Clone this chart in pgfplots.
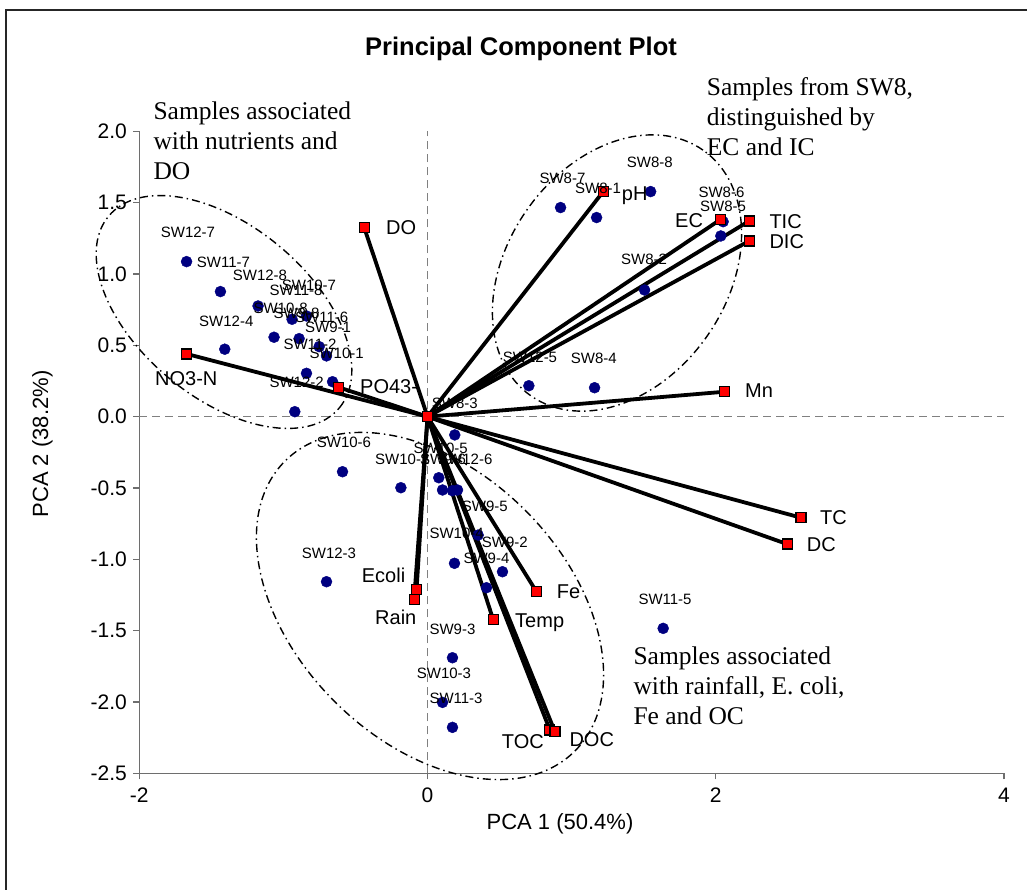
\documentclass[border=0pt]{standalone}
\usepackage{fontspec}
\setmainfont{Liberation Sans}
\newfontfamily\seriffont{Liberation Serif}
\usepackage{pgfplots}
\pgfplotsset{compat=1.18}
\definecolor{navy}{RGB}{0,0,128}
\definecolor{axgray}{RGB}{110,110,110}
\definecolor{zgray}{RGB}{128,128,128}
\newcommand{\smplfont}{\fontsize{15bp}{17bp}\selectfont}
\newcommand{\varfont}{\fontsize{20bp}{22bp}\selectfont}
\newcommand{\annfont}{\seriffont\fontsize{25.5bp}{30bp}\selectfont}
\begin{document}
\begin{tikzpicture}
\begin{scope}[x=1bp,y=1bp]
\path[use as bounding box] (0,0) rectangle (1027,890);
\draw[line width=1.5bp, black!85] (6,0) -- (6,880) -- (1027,880);
\end{scope}
\begin{axis}[at={(139.3bp,116.7bp)}, anchor=south west, scale only axis,
  width=864.7bp, height=641.9bp,
  xmin=-2, xmax=4, ymin=-2.5, ymax=2,
  axis x line=bottom, axis y line=left,
  axis line style={-, axgray, line width=1.2bp},
  xtick={-2,0,2,4}, ytick={-2.5,-2,-1.5,-1,-0.5,0,0.5,1,1.5,2},
  tick style={axgray, line width=1.2bp}, tick align=outside, major tick length=6bp,
  /pgf/number format/assume math mode=true,
  yticklabel style={/pgf/number format/fixed, /pgf/number format/fixed zerofill, /pgf/number format/precision=1},
  ticklabel style={font=\fontsize{21bp}{23bp}\selectfont, text=black},
  xticklabel shift=5bp, yticklabel shift=3bp,
  clip=false]
\draw[zgray, line width=1.5bp, dash pattern=on 8bp off 5bp] (axis cs:0,-2.5) -- (axis cs:0,2);
\draw[zgray, line width=1.5bp, dash pattern=on 8bp off 5bp] (axis cs:-2,0) -- (axis cs:4,0);
% samples
\addplot[only marks, mark=*, mark size=5.5bp, mark options={fill=navy, draw=navy}] coordinates {
(-1.672,1.087) (-1.437,0.877) (-1.176,0.776) (-0.940,0.683) (-0.840,0.706)
(-1.407,0.473) (-1.065,0.557) (-0.891,0.547) (-0.752,0.491) (-0.701,0.426)
(-0.840,0.304) (-0.659,0.245) (-0.921,0.035)
(0.923,1.466) (1.173,1.396) (1.548,1.578) (2.051,1.367) (2.035,1.267)
(1.506,0.888) (0.703,0.217) (1.159,0.203) (1.635,-1.484)
(0.189,-0.128) (-0.590,-0.386) (-0.185,-0.498) (0.078,-0.428) (0.104,-0.514)
(0.173,-0.519) (0.208,-0.514) (0.351,-0.830) (0.187,-1.028) (0.520,-1.087)
(0.409,-1.199) (-0.701,-1.157) (0.173,-1.690) (0.104,-2.003) (0.173,-2.178)
};
% loading vectors
\pgfplotsset{vec/.style={black, line width=3.8bp, line cap=round}}
\addplot[vec] coordinates {(0,0) (-0.440,1.328)};
\addplot[vec] coordinates {(0,0) (-1.672,0.440)};
\addplot[vec] coordinates {(0,0) (-0.616,0.206)};
\addplot[vec] coordinates {(0,0) (1.219,1.578)};
\addplot[vec] coordinates {(0,0) (2.035,1.384)};
\addplot[vec] coordinates {(0,0) (2.232,1.372)};
\addplot[vec] coordinates {(0,0) (2.232,1.232)};
\addplot[vec] coordinates {(0,0) (2.063,0.175)};
\addplot[vec] coordinates {(0,0) (2.591,-0.708)};
\addplot[vec] coordinates {(0,0) (2.495,-0.893)};
\addplot[vec] coordinates {(0,0) (0.756,-1.227)};
\addplot[vec] coordinates {(0,0) (0.455,-1.421)};
\addplot[vec] coordinates {(0,0) (0.849,-2.197)};
\addplot[vec] coordinates {(0,0) (0.884,-2.209)};
\addplot[vec] coordinates {(0,0) (-0.076,-1.210)};
\addplot[vec] coordinates {(0,0) (-0.093,-1.281)};
\addplot[only marks, mark=square*, mark size=5bp, mark options={fill=red, draw=black, line width=1.2bp}] coordinates {
(0,0) (-0.440,1.328) (-1.672,0.440) (-0.616,0.206) (1.219,1.578) (2.035,1.384)
(2.232,1.372) (2.232,1.232) (2.063,0.175) (2.591,-0.708) (2.495,-0.893)
(0.756,-1.227) (0.455,-1.421) (0.849,-2.197) (0.884,-2.209) (-0.076,-1.210) (-0.093,-1.281)
};
\end{axis}
\begin{scope}[x=1bp,y=1bp]
% ellipses
\tikzset{dd/.style={black, line width=1.4bp, dash pattern=on 8bp off 4bp on 1.5bp off 4bp}}
\draw[dd, rotate around={-39.7:(224,578)}] (224,578) ellipse [x radius=150, y radius=86];
\draw[dd, rotate around={55:(617,617)}] (617,617) ellipse [x radius=150, y radius=110];
\draw[dd, rotate around={-45:(430,284)}] (430,284) ellipse [x radius=205, y radius=135];
% title and axis labels
\node[anchor=base, inner sep=0, font=\bfseries\fontsize{25.5bp}{28bp}\selectfont] at (521,834) {Principal Component Plot};
\node[anchor=base, inner sep=0, font=\fontsize{22bp}{24bp}\selectfont] at (560,60) {PCA 1 (50.4\%)};
\node[anchor=base, inner sep=0, rotate=90, font=\fontsize{22bp}{24bp}\selectfont] at (48,446) {PCA 2 (38.2\%)};
% sample labels
\tikzset{s/.style={anchor=base west, inner sep=0, font=\smplfont}}
\node[s] at (160.7,652.9) {SW12-7};
\node[s] at (196.7,622.9) {SW11-7};
\node[s] at (232.7,609.6) {SW12-8};
\node[s] at (281.7,599.6) {SW10-7};
\node[s] at (269.3,594.6) {SW11-8};
\node[s] at (253.3,576.3) {SW10-8};
\node[s] at (273.3,571.9) {SW9-8};
\node[s] at (295,567.3) {SW11-6};
\node[s] at (305,557.9) {SW9-1};
\node[s] at (199,563.9) {SW12-4};
\node[s] at (283.3,540.3) {SW11-2};
\node[s] at (309.3,531.3) {SW10-1};
\node[s] at (269.3,502.3) {SW12-2};
\node[s] at (539.3,706.9) {SW8-7};
\node[s] at (575,696.3) {SW8-1};
\node[s] at (626.7,722.9) {SW8-8};
\node[s] at (698.3,692.9) {SW8-6};
\node[s] at (700,678.9) {SW8-5};
\node[s] at (621,625.6) {SW8-2};
\node[s] at (502.7,527.3) {SW12-5};
\node[s] at (570.7,526.3) {SW8-4};
\node[s] at (431.7,481.3) {SW8-3};
\node[s] at (316.7,442.9) {SW10-6};
\node[s] at (413.3,436.3) {SW10-5};
\node[s] at (375,425.3) {SW10-2};
\node[s] at (420,425.3) {SW9-6};
\node[s] at (438,425.3) {SW12-6};
\node[s] at (461.7,378.6) {SW9-5};
\node[s] at (429.3,351.3) {SW10-4};
\node[s] at (481.7,342.9) {SW9-2};
\node[s] at (301.7,331.9) {SW12-3};
\node[s] at (463.3,326.3) {SW9-4};
\node[s] at (429.3,255.3) {SW9-3};
\node[s] at (416.7,211.9) {SW10-3};
\node[s] at (429.3,186.3) {SW11-3};
\node[s] at (638.3,285.3) {SW11-5};
% variable labels
\tikzset{v/.style={anchor=base west, inner sep=0, font=\varfont}}
\node[v] at (386,655.5) {DO};
\node[v] at (155,504.5) {NO3-N};
\node[v] at (360,496.1) {PO43-};
\node[v] at (621.7,689.5) {pH};
\node[v] at (675,662.8) {EC};
\node[v] at (769.3,661.8) {TIC};
\node[v] at (769.3,641.8) {DIC};
\node[v] at (745,492.1) {Mn};
\node[v] at (820,365.5) {TC};
\node[v] at (806.7,338.8) {DC};
\node[v] at (361.7,307.8) {Ecoli};
\node[v] at (375,265.8) {Rain};
\node[v] at (556.7,291.1) {Fe};
\node[v] at (515,262.8) {Temp};
\node[v] at (501.7,141.1) {TOC};
\node[v] at (569.3,143.5) {DOC};
% annotations
\tikzset{a/.style={anchor=base west, inner sep=0, font=\annfont}}
\node[a] at (153.3,770) {Samples associated};
\node[a] at (153.3,740) {with nutrients and};
\node[a] at (153.3,710) {DO};
\node[a] at (706.7,794) {Samples from SW8,};
\node[a] at (706.7,764) {distinguished by};
\node[a] at (706.7,734) {EC and IC};
\node[a] at (633.3,225) {Samples associated};
\node[a] at (633.3,195) {with rainfall, E. coli,};
\node[a] at (633.3,165) {Fe and OC};
\end{scope}
\end{tikzpicture}
\end{document}
